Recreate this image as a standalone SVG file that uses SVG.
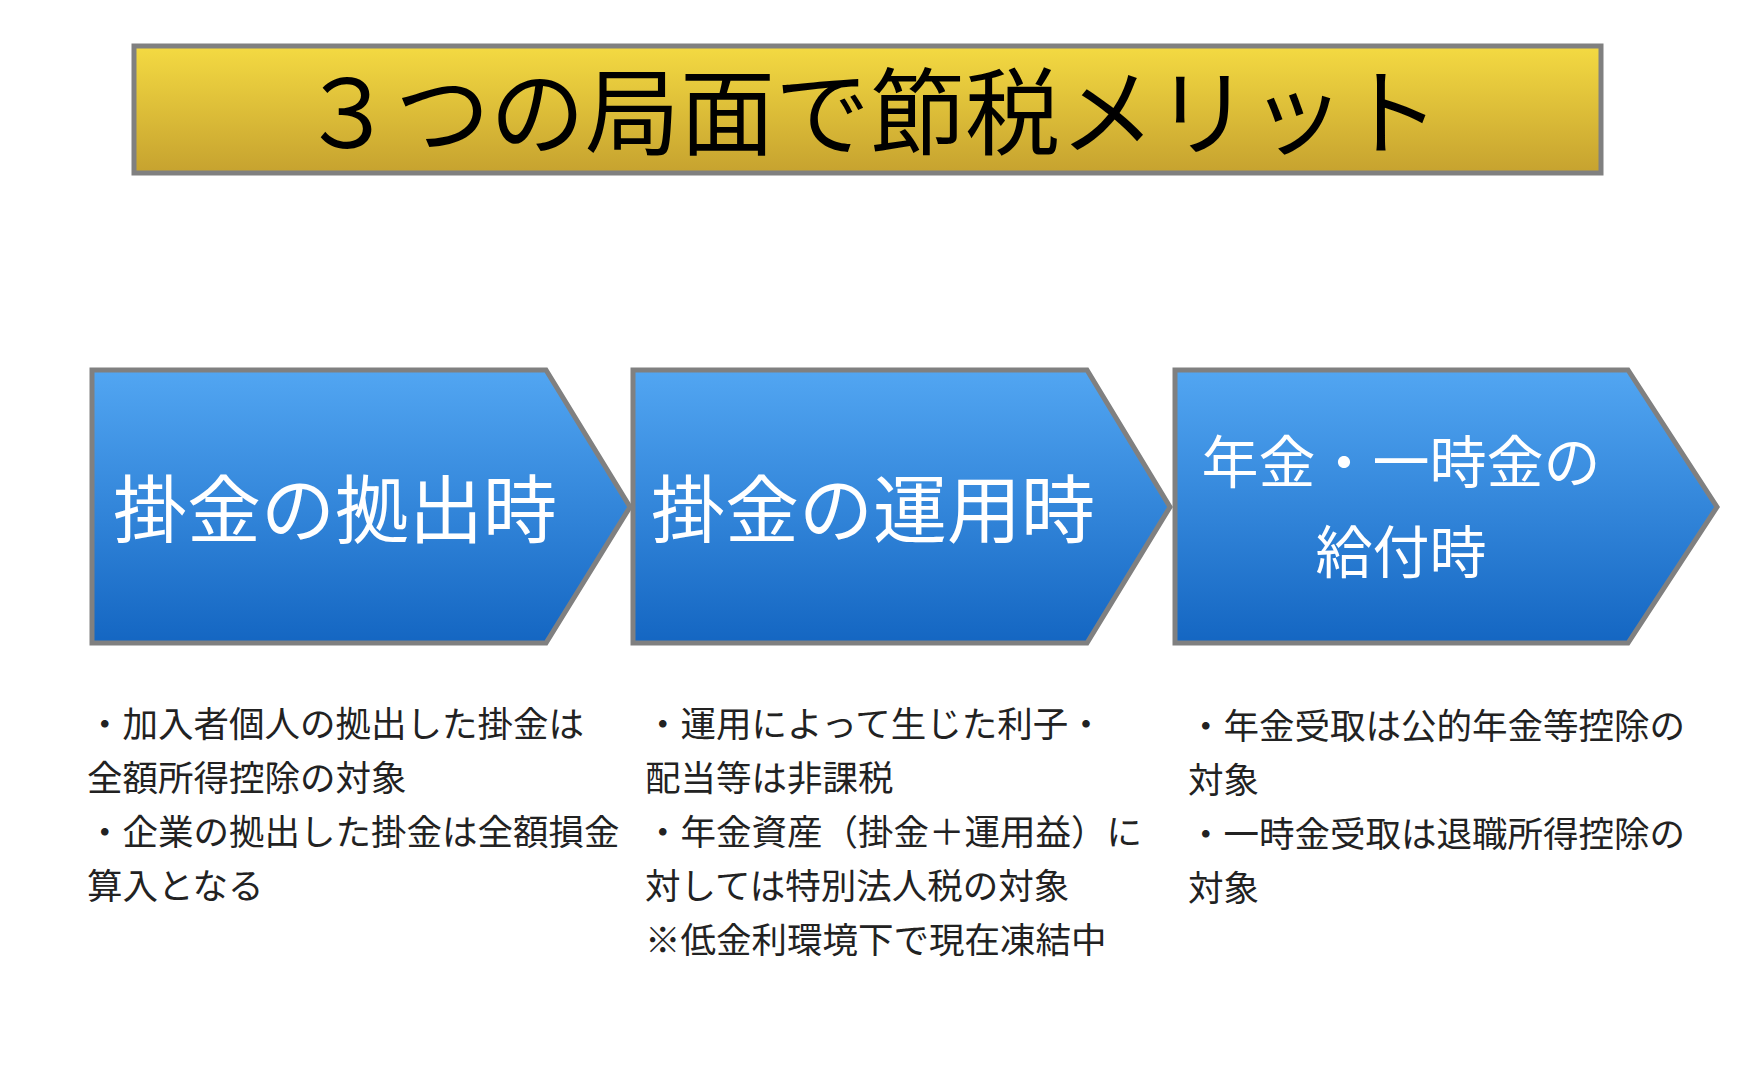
<svg xmlns="http://www.w3.org/2000/svg" width="1760" height="1084" viewBox="0 0 1760 1084">
<defs>
<linearGradient id="gold" x1="0" y1="0" x2="0" y2="1"><stop offset="0" stop-color="#f4da42"/><stop offset="1" stop-color="#c6a22f"/></linearGradient>
<linearGradient id="blue" x1="0" y1="0" x2="0" y2="1"><stop offset="0" stop-color="#52a6f2"/><stop offset="1" stop-color="#1466c2"/></linearGradient>
</defs>
<style>
.jp{font-family:"Noto Sans CJK JP","Noto Sans CJK SC",sans-serif}
.chev{fill:url(#blue);stroke:#808080;stroke-width:5}
.head{fill:#fff;font-size:74px}
.head3{fill:#fff;font-size:57px}
.body{fill:#222;font-size:35.5px}
</style>
<rect width="1760" height="1084" fill="#fff"/>
<g id="title">
<rect x="134" y="46" width="1467" height="127" fill="url(#gold)" stroke="#808080" stroke-width="5"/>
<text class="jp" x="870" y="148" text-anchor="middle" font-size="95" fill="#000">３つの局面で節税メリット</text>
</g>
<g id="node1">
<polygon class="chev" points="92,370 546,370 630,507 546,643 92,643"/>
<text class="jp head" x="113" y="537">掛金の拠出時</text>
</g>
<g id="node2">
<polygon class="chev" points="633,370 1087,370 1170,507 1087,643 633,643"/>
<text class="jp head" x="651" y="537">掛金の運用時</text>
</g>
<g id="node3">
<polygon class="chev" points="1175,370 1628,370 1717,507 1628,643 1175,643"/>
<text class="jp head3" x="1401" y="483" text-anchor="middle">年金・一時金の</text>
<text class="jp head3" x="1401" y="573" text-anchor="middle">給付時</text>
</g>
<g id="connectors"/>
<g id="text1" class="jp body">
<text x="87" y="737">・加入者個人の拠出した掛金は</text>
<text x="87" y="791">全額所得控除の対象</text>
<text x="87" y="845">・企業の拠出した掛金は全額損金</text>
<text x="87" y="899">算入となる</text>
</g>
<g id="text2" class="jp body">
<text x="645" y="737">・運用によって生じた利子・</text>
<text x="645" y="791">配当等は非課税</text>
<text x="645" y="845">・年金資産（掛金＋運用益）に</text>
<text x="645" y="899">対しては特別法人税の対象</text>
<text x="645" y="953">※低金利環境下で現在凍結中</text>
</g>
<g id="text3" class="jp body">
<text x="1188" y="739">・年金受取は公的年金等控除の</text>
<text x="1188" y="793">対象</text>
<text x="1188" y="847">・一時金受取は退職所得控除の</text>
<text x="1188" y="901">対象</text>
</g>
</svg>
